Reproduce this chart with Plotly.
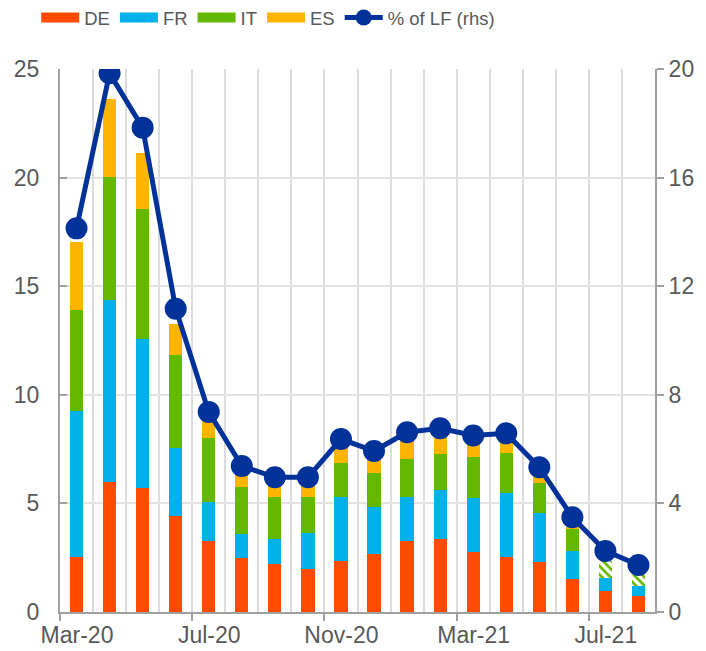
import plotly.graph_objects as go

months = ["Mar-20", "Apr-20", "May-20", "Jun-20", "Jul-20", "Aug-20", "Sep-20", "Oct-20",
          "Nov-20", "Dec-20", "Jan-21", "Feb-21", "Mar-21", "Apr-21", "May-21", "Jun-21",
          "Jul-21", "Aug-21"]
tick_labels = ["Mar-20", "Jul-20", "Nov-20", "Mar-21", "Jul-21"]

de = [2.55, 5.97, 5.69, 4.42, 3.27, 2.50, 2.20, 1.98, 2.35, 2.66, 3.27, 3.35, 2.78, 2.55, 2.30, 1.50, 0.98, 0.72]
fr = [6.72, 8.39, 6.89, 3.12, 1.81, 1.08, 1.17, 1.67, 2.96, 2.19, 2.01, 2.25, 2.45, 2.94, 2.24, 1.31, 0.60, 0.49]
it = [4.63, 5.65, 5.96, 4.29, 2.92, 2.16, 1.94, 1.63, 1.54, 1.56, 1.75, 1.69, 1.92, 1.81, 1.38, 0.99, 0.78, 0.49]
es = [3.12, 3.59, 2.61, 1.43, 0.90, 0.66, 0.59, 0.52, 0.70, 0.59, 0.87, 0.76, 0.65, 0.50, 0.28, 0.13, None, None]
it_estimated = [False] * 16 + [True, True]
pct_lf = [14.13, 19.84, 17.84, 11.17, 7.37, 5.38, 4.96, 4.96, 6.37, 5.93, 6.62, 6.77, 6.50, 6.58, 5.33, 3.49, 2.25, 1.73]

C_DE, C_FR, C_IT, C_ES, C_LINE = "#FF4B00", "#00B1EA", "#65B800", "#FFB400", "#003299"
GRID = "#dcdcdc"
AXIS = "#a0a0a0"
TXT = "#595959"
FONT = "Liberation Sans, Arial, sans-serif"

# page body has an 8px margin, so the figure is sized to fill the rest of the window
W, H = 698, 643
ML, MR, MT, MB = 52, 51, 61, 39
n = len(months)
xs = list(range(n))
label_pos = [months.index(m) for m in tick_labels]
boundary_ticks = [p - 0.5 for p in label_pos]
half_cat_px = int(round((W - ML - MR) / n / 2))

fig = go.Figure()
bar_w = 0.4
for name, vals, col in [("DE", de, C_DE), ("FR", fr, C_FR)]:
    fig.add_trace(go.Bar(x=xs, y=vals, name=name, marker=dict(color=col, line=dict(width=0)),
                         width=bar_w, showlegend=False))
fig.add_trace(go.Bar(
    x=xs, y=it, name="IT", width=bar_w, showlegend=False,
    marker=dict(color=C_IT, line=dict(width=0),
                pattern=dict(shape=["\\" if e else "" for e in it_estimated],
                             fgcolor=C_IT,
                             bgcolor=["white" if e else C_IT for e in it_estimated],
                             fillmode="replace", size=6, solidity=0.45))))
fig.add_trace(go.Bar(x=xs, y=es, name="ES", marker=dict(color=C_ES, line=dict(width=0)),
                     width=bar_w, showlegend=False))
fig.add_trace(go.Scatter(x=xs, y=pct_lf, name="% of LF (rhs)", yaxis="y2", mode="lines+markers",
                         line=dict(color=C_LINE, width=5), marker=dict(color=C_LINE, size=22),
                         showlegend=False))

# legend entries
for name, col in [("DE", C_DE), ("FR", C_FR), ("IT", C_IT), ("ES", C_ES)]:
    fig.add_trace(go.Scatter(x=[None], y=[None], name=name, mode="lines",
                             line=dict(color=col, width=12)))
fig.add_trace(go.Scatter(x=[None], y=[None], name="% of LF (rhs)", mode="lines+markers",
                         line=dict(color=C_LINE, width=5), marker=dict(color=C_LINE, size=17)))

fig.update_layout(
    width=W, height=H,
    margin=dict(l=ML, r=MR, t=MT, b=MB, autoexpand=False),
    paper_bgcolor="white", plot_bgcolor="white",
    barmode="stack",
    font=dict(family=FONT, color=TXT, size=23),
    showlegend=True,
    legend=dict(orientation="h", x=-0.04, xanchor="left", y=1.094, yanchor="middle",
                font=dict(size=18.5, color=TXT), itemwidth=38, tracegroupgap=0,
                traceorder="normal", bgcolor="rgba(0,0,0,0)"),
    xaxis=dict(range=[-0.5, n - 0.5], tickmode="array", tickvals=boundary_ticks,
               ticktext=tick_labels, ticklabelshift=half_cat_px, ticklabelstandoff=-6,
               ticks="outside", ticklen=7, tickwidth=2, tickcolor=AXIS,
               tickfont=dict(size=23, color=TXT),
               showgrid=False, zeroline=False, showline=True, linecolor=AXIS, linewidth=2,
               minor=dict(tickmode="linear", tick0=-0.5, dtick=1, showgrid=True,
                          gridcolor=GRID, gridwidth=2, ticks="")),
    yaxis=dict(range=[0, 25], dtick=5, showgrid=True, gridcolor="#e3e3e3", gridwidth=2,
               zeroline=False, showline=True, linecolor=AXIS, linewidth=2,
               ticks="inside", ticklen=7, tickwidth=2, tickcolor=AXIS,
               ticklabelstandoff=14, tickfont=dict(size=23, color=TXT)),
    yaxis2=dict(range=[0, 20], dtick=4, overlaying="y", side="right", showgrid=False,
                zeroline=False, showline=True, linecolor=AXIS, linewidth=2,
                ticks="outside", ticklen=7, tickwidth=2, tickcolor=AXIS,
                tickfont=dict(size=23, color=TXT)),
)

fig.write_html("out.html")
